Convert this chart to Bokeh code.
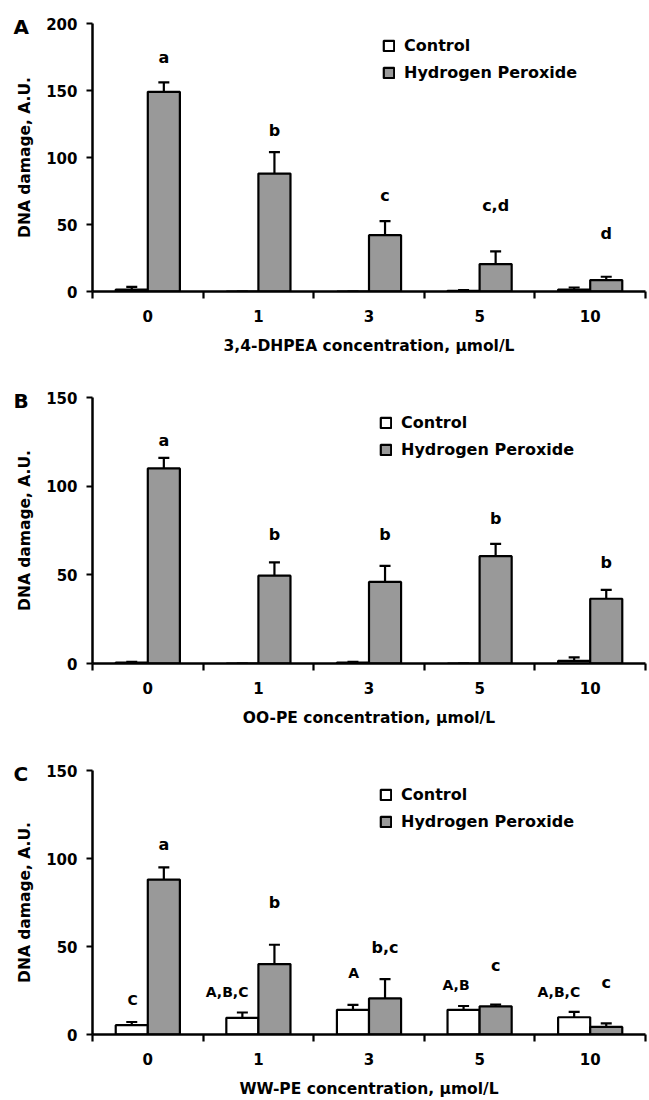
from bokeh.plotting import figure
from bokeh.models import (FixedTicker, Legend, LegendItem, ColumnDataSource,
                          Range1d, Whisker, TeeHead, Title)
from bokeh.layouts import column
from bokeh.embed import file_html
from bokeh.resources import INLINE
from bokeh.core.properties import value

# ---------------- data ----------------
concentrations = ["0", "1", "3", "5", "10"]
series_names = ["Control", "Hydrogen Peroxide"]

# Panel A: 3,4-DHPEA
a_control = [1.5, 0, 0, 0.5, 1.5]
a_control_err = [2.0, 0, 0, 0.5, 1.5]
a_h2o2 = [149, 88, 42, 20.5, 8.5]
a_h2o2_err = [7, 16, 10.5, 9.5, 2.5]
a_letters = ["a", "b", "c", "c,d", "d"]
a_letter_y = [175, 120, 72, 64, 43]

# Panel B: OO-PE
b_control = [0.5, 0, 0.5, 0, 1.5]
b_control_err = [0.5, 0, 0.5, 0, 2.0]
b_h2o2 = [110, 49.5, 46, 60.5, 36.5]
b_h2o2_err = [6, 7.5, 9, 7, 5]
b_letters = ["a", "b", "b", "b", "b"]
b_letter_y = [126, 73, 73, 82, 57]

# Panel C: WW-PE
c_control = [5.3, 9.5, 14, 14, 9.8]
c_control_err = [1.8, 3, 2.8, 2.2, 3]
c_h2o2 = [88, 40, 20.5, 16, 4.3]
c_h2o2_err = [7, 11, 11, 1, 2]
c_letters = ["a", "b", "b,c", "c", "c"]
c_letter_y = [108, 75, 49.5, 39, 29.5]
c_upper = ["C", "A,B,C", "A", "A,B", "A,B,C"]
c_upper_y = [19.5, 24, 35, 28, 24]

FONT = "DejaVu Sans"
GRAY = "#999999"
LW = 2.2


def make_panel(letter, xtitle, ymax, yticks, ctrl, ctrl_err, h2o2, h2o2_err,
               letters, letter_y, upper, upper_y,
               height, b_top, b_bottom, legend_loc):
    n = len(concentrations)
    centers = [i + 0.5 for i in range(n)]
    off = 0.145
    bw = 0.29
    p = figure(width=649, height=height, x_range=Range1d(0, n),
               y_range=Range1d(0, ymax), output_backend="svg",
               toolbar_location=None, min_border_left=92, min_border_right=4,
               min_border_top=b_top, min_border_bottom=b_bottom)
    p.outline_line_color = None
    p.xgrid.visible = False
    p.ygrid.visible = False

    # panel letter as a left-aligned title pulled to the left of the y axis
    p.add_layout(Title(text=letter, align="left", offset=-79, standoff=-30,
                       vertical_align="bottom", text_font=FONT,
                       text_font_style="bold", text_font_size="20px",
                       text_color="black"), "above")

    src = ColumnDataSource(dict(
        xc=[c - off for c in centers], xh=[c + off for c in centers],
        ctrl=ctrl, h2o2=h2o2,
        ctrl_up=[v + e for v, e in zip(ctrl, ctrl_err)],
        h2o2_up=[v + e for v, e in zip(h2o2, h2o2_err)],
    ))
    for base, lo, up in (("xc", "ctrl", "ctrl_up"), ("xh", "h2o2", "h2o2_up")):
        w = Whisker(source=src, base=base, lower=lo, upper=up, dimension="height",
                    line_color="black", line_width=LW,
                    upper_head=TeeHead(size=11, line_width=LW, line_color="black"),
                    lower_head=None)
        p.add_layout(w)
    r1 = p.vbar(x="xc", top="ctrl", width=bw, fill_color="white",
                line_color="black", line_width=LW, source=src)
    r2 = p.vbar(x="xh", top="h2o2", width=bw, fill_color=GRAY,
                line_color="black", line_width=LW, source=src)

    p.text(x=[c + off for c in centers], y=letter_y, text=letters,
           text_font=value(FONT), text_font_style="bold", text_font_size="16px",
           text_align="center", text_baseline="middle", text_color="black")
    if upper:
        p.text(x=centers, y=upper_y, text=upper, x_offset=-10,
               text_font=value(FONT), text_font_style="bold", text_font_size="14px",
               text_align="right", text_baseline="middle", text_color="black")

    # x axis
    xa = p.xaxis[0]
    xa.ticker = FixedTicker(ticks=centers, minor_ticks=list(range(n + 1)))
    xa.major_label_overrides = {c: lab for c, lab in zip(centers, concentrations)}
    xa.major_tick_out = 0
    xa.major_tick_in = 0
    xa.minor_tick_out = 7
    xa.minor_tick_in = 0
    xa.minor_tick_line_width = LW
    xa.minor_tick_line_color = "black"
    xa.axis_line_width = 2.5
    xa.axis_line_color = "black"
    xa.major_label_standoff = 11
    xa.major_label_text_font = FONT
    xa.major_label_text_font_style = "bold"
    xa.major_label_text_font_size = "15px"
    xa.major_label_text_color = "black"
    xa.axis_label = xtitle
    xa.axis_label_standoff = 12
    xa.axis_label_text_font = FONT
    xa.axis_label_text_font_style = "bold"
    xa.axis_label_text_font_size = "15.5px"
    xa.axis_label_text_color = "black"

    # y axis
    ya = p.yaxis[0]
    ya.ticker = FixedTicker(ticks=yticks, minor_ticks=[])
    ya.major_tick_out = 6
    ya.major_tick_in = 0
    ya.major_tick_line_width = LW
    ya.major_tick_line_color = "black"
    ya.axis_line_width = 2.5
    ya.axis_line_color = "black"
    ya.major_label_standoff = 9
    ya.major_label_text_font = FONT
    ya.major_label_text_font_style = "bold"
    ya.major_label_text_font_size = "15px"
    ya.major_label_text_color = "black"
    ya.axis_label = "DNA damage, A.U."
    ya.axis_label_standoff = 9
    ya.axis_label_text_font = FONT
    ya.axis_label_text_font_style = "bold"
    ya.axis_label_text_font_size = "15.5px"
    ya.axis_label_text_color = "black"

    legend = Legend(items=[LegendItem(label=series_names[0], renderers=[r1]),
                           LegendItem(label=series_names[1], renderers=[r2])],
                    location=legend_loc, orientation="vertical",
                    border_line_color=None, background_fill_alpha=0,
                    padding=0, margin=0, spacing=7,
                    glyph_width=13, glyph_height=13, label_height=20,
                    label_standoff=9,
                    label_text_font=FONT, label_text_font_style="bold",
                    label_text_font_size="16px", label_text_color="black")
    p.add_layout(legend)
    return p


pa = make_panel("A", "3,4-DHPEA concentration, \u00b5mol/L", 200, [0, 50, 100, 150, 200],
                a_control, a_control_err, a_h2o2, a_h2o2_err, a_letters, a_letter_y,
                None, None, height=371, b_top=23, b_bottom=80, legend_loc=(290, 209))
pb = make_panel("B", "OO-PE concentration, \u00b5mol/L", 150, [0, 50, 100, 150],
                b_control, b_control_err, b_h2o2, b_h2o2_err, b_letters, b_letter_y,
                None, None, height=365, b_top=26, b_bottom=73, legend_loc=(287, 204))
pc = make_panel("C", "WW-PE concentration, \u00b5mol/L", 150, [0, 50, 100, 150],
                c_control, c_control_err, c_h2o2, c_h2o2_err, c_letters, c_letter_y,
                c_upper, c_upper_y, height=364, b_top=34, b_bottom=66, legend_loc=(287, 203))

layout = column(pa, pb, pc, spacing=0)
open("out.html", "w").write(file_html(layout, INLINE))
